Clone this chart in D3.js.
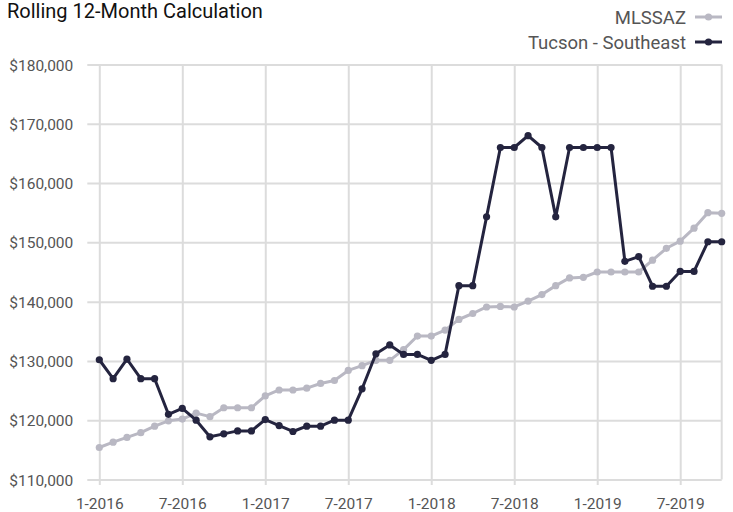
<!DOCTYPE html>
<html>
<head>
<meta charset="utf-8">
<script src="https://cdn.jsdelivr.net/npm/d3@7"></script>
<style>
  html, body { margin: 0; padding: 0; background: #fff; }
  svg { display: block; }
  text { font-family: Roboto, "Noto Sans", sans-serif; font-weight: 400; }
</style>
</head>
<body>
<svg id="chart" width="733" height="512"></svg>
<script>
// Monthly categories, Jan 2016 – Oct 2019
const months = [];
for (let y = 2016; y <= 2019; y++) {
  for (let m = 1; m <= 12; m++) {
    if (y === 2019 && m > 10) break;
    months.push(m + "-" + y);
  }
}

// Rolling 12-month median price, MLSSAZ
const mlssaz = [115400,116300,117100,117900,119000,119900,120200,121200,120600,122100,122100,122100,
  124100,125100,125100,125400,126200,126700,128400,129200,130100,130100,131900,134200,
  134200,135200,137000,138000,139100,139200,139100,140100,141200,142700,144000,144100,
  145000,145000,145000,145000,147000,149000,150200,152400,155000,154900];

// Rolling 12-month median price, Tucson - Southeast
const tucsonSE = [130200,127000,130300,127000,127000,121000,122000,120000,117200,117700,118200,118200,
  120100,119100,118100,119000,119000,120000,120000,125300,131200,132700,131100,131100,
  130100,131100,142700,142700,154300,166000,166000,168000,166000,154300,166000,166000,
  166000,166000,146800,147600,142600,142600,145100,145100,150100,150100];

const xTickLabels = ["1-2016","7-2016","1-2017","7-2017","1-2018","7-2018","1-2019","7-2019"];
const yTickValues = [110000,120000,130000,140000,150000,160000,170000,180000];

const seriesNames = ["MLSSAZ", "Tucson - Southeast"];
const seriesColors = ["#b9b8c3", "#24243f"];

const svg = d3.select("#chart");

const x = d3.scalePoint().domain(months).range([99.3, 721.7]);
const y = d3.scaleLinear().domain([110000, 180000]).range([479.5, 64.5]);

const gridColor = "#dcdcdc";
const labelColor = "#555";

// Horizontal gridlines + y-axis labels
const yAxis = d3.axisLeft(y)
  .tickValues(yTickValues)
  .tickSize(-(721.7 - 87.3))
  .tickFormat(d => "$" + d3.format(",")(d));
svg.append("g")
  .attr("transform", "translate(87.3,0)")
  .call(yAxis)
  .call(g => g.select(".domain").remove())
  .call(g => g.selectAll(".tick line").attr("stroke", gridColor).attr("stroke-width", 2))
  .call(g => g.selectAll(".tick text")
    .attr("fill", labelColor).attr("font-size", 15.5)
    .attr("x", -14).attr("dy", "0.36em"));

// Vertical gridlines + x-axis labels
const xAxis = d3.axisBottom(x)
  .tickValues(xTickLabels)
  .tickSize(-(485 - 64.5));
svg.append("g")
  .attr("transform", "translate(0,485)")
  .call(xAxis)
  .call(g => g.select(".domain").remove())
  .call(g => g.selectAll(".tick line").attr("stroke", gridColor).attr("stroke-width", 2))
  .call(g => g.selectAll(".tick text")
    .attr("fill", labelColor).attr("font-size", 15.5)
    .attr("y", 23.5).attr("dy", null));

// Right edge of the plot area
svg.append("line")
  .attr("x1", x(months[months.length - 1])).attr("x2", x(months[months.length - 1]))
  .attr("y1", y(180000)).attr("y2", y(110000))
  .attr("stroke", gridColor).attr("stroke-width", 2);

// Lines with point markers
const line = d3.line().x((d, i) => x(months[i])).y(d => y(d));
[mlssaz, tucsonSE].forEach((vals, k) => {
  const g = svg.append("g");
  g.append("path")
    .datum(vals)
    .attr("d", line)
    .attr("fill", "none")
    .attr("stroke", seriesColors[k])
    .attr("stroke-width", 3)
    .attr("stroke-linejoin", "round");
  g.selectAll("circle")
    .data(vals)
    .join("circle")
    .attr("cx", (d, i) => x(months[i]))
    .attr("cy", d => y(d))
    .attr("r", 3.6)
    .attr("fill", seriesColors[k]);
});

// Title
svg.append("text")
  .attr("x", 7).attr("y", 18)
  .attr("font-size", 20)
  .attr("fill", "#111")
  .text("Rolling 12-Month Calculation");

// Legend
const legend = svg.append("g");
seriesNames.forEach((name, k) => {
  const cy = 17 + k * 25;
  legend.append("text")
    .attr("x", 686).attr("y", cy)
    .attr("dy", "0.36em")
    .attr("text-anchor", "end")
    .attr("font-size", 18.5)
    .attr("fill", labelColor)
    .text(name);
  legend.append("line")
    .attr("x1", 695).attr("x2", 722)
    .attr("y1", cy).attr("y2", cy)
    .attr("stroke", seriesColors[k]).attr("stroke-width", 3);
  legend.append("circle")
    .attr("cx", 708.5).attr("cy", cy).attr("r", 3.6)
    .attr("fill", seriesColors[k]);
});
</script>
</body>
</html>
